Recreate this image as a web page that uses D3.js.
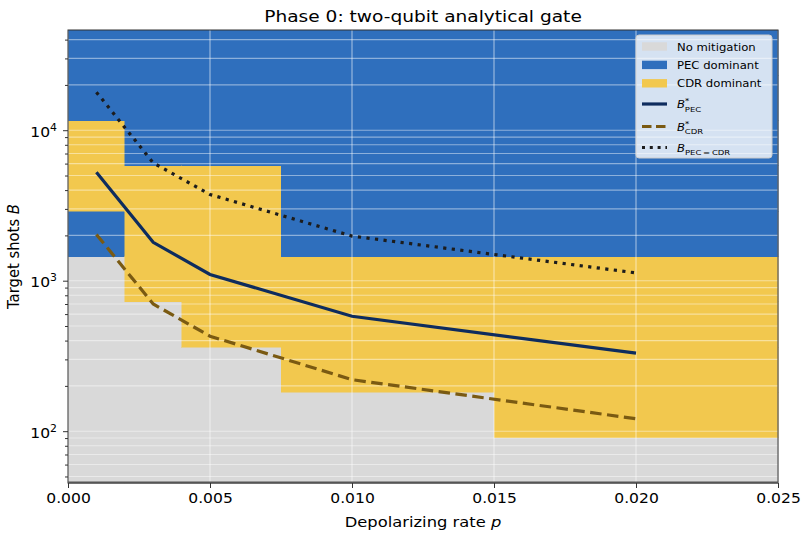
<!DOCTYPE html>
<html lang="en">
<head>
<meta charset="UTF-8">
<title>Phase 0: two-qubit analytical gate</title>
<script src="https://cdn.jsdelivr.net/npm/d3@7"></script>
<style>
  body { margin: 0; background: #fff; }
  svg { display: block; font-family: "DejaVu Sans", sans-serif; }
</style>
</head>
<body>
<svg id="chart" width="805" height="536"></svg>
<script>
// depolarizing rates (columns) and target shots (rows, powers of two)
const pValues = [0.001, 0.003, 0.005, 0.010, 0.020];
const shotValues = [64, 128, 256, 512, 1024, 2048, 4096, 8192, 16384, 32768];

const regimeNames = ["No mitigation", "PEC dominant", "CDR dominant"];
const regimeColors = ["#d9d9d9", "#2f6fbd", "#f2c84e"];

// regime index per shot row (bottom -> top), one list per p column
const regimeP001 = [0, 0, 0, 0, 0, 1, 2, 2, 1, 1];
const regimeP003 = [0, 0, 0, 0, 2, 2, 2, 1, 1, 1];
const regimeP005 = [0, 0, 0, 2, 2, 2, 2, 1, 1, 1];
const regimeP010 = [0, 0, 2, 2, 2, 1, 1, 1, 1, 1];
const regimeP020 = [0, 2, 2, 2, 2, 1, 1, 1, 1, 1];
const regimeGrid = [regimeP001, regimeP003, regimeP005, regimeP010, regimeP020];

// threshold curves
const bPec = [5260, 1800, 1100, 580, 330];
const bCdr = [2030, 700, 428, 220, 121];
const bCross = [17900, 6070, 3740, 1980, 1127];

const xTicks = [0, 0.005, 0.010, 0.015, 0.020, 0.025];
const yMajorTicks = [100, 1000, 10000];

const SX = 1.12; // text in the picture is a bit wider than tall

const svg = d3.select("#chart");
const margin = { left: 68, right: 27, top: 30, bottom: 53 };
const W = 805, H = 536;
const plotW = W - margin.left - margin.right;
const plotH = H - margin.top - margin.bottom;

// cell edges like pcolormesh(shading="nearest")
function edges(vals) {
  const e = [vals[0] - (vals[1] - vals[0]) / 2];
  for (let i = 0; i < vals.length - 1; i++) e.push((vals[i] + vals[i + 1]) / 2);
  const n = vals.length - 1;
  e.push(vals[n] + (vals[n] - vals[n - 1]) / 2);
  return e;
}
const pEdges = edges(pValues);
const bEdges = edges(shotValues.map(Math.log2)).map(v => Math.pow(2, v));

const x = d3.scaleLinear().domain([pEdges[0], pEdges[pEdges.length - 1]]).range([0, plotW]);
const y = d3.scaleLog().domain([bEdges[0], bEdges[bEdges.length - 1]]).range([plotH, 0]);

const g = svg.append("g").attr("transform", `translate(${margin.left},${margin.top})`);

// heat cells
const cells = [];
regimeGrid.forEach((col, i) => {
  col.forEach((r, j) => {
    cells.push({ x0: pEdges[i], x1: pEdges[i + 1], y0: bEdges[j], y1: bEdges[j + 1], r: r });
  });
});
g.append("g").selectAll("rect").data(cells).join("rect")
  .attr("x", d => x(d.x0))
  .attr("y", d => y(d.y1))
  .attr("width", d => x(d.x1) - x(d.x0))
  .attr("height", d => y(d.y0) - y(d.y1))
  .attr("fill", d => regimeColors[d.r])
  .attr("stroke", d => regimeColors[d.r])
  .attr("stroke-width", 0.5)
  .attr("shape-rendering", "crispEdges");

// grid
const [yMin, yMax] = y.domain();
const yAllTicks = [];
for (let dec = 1; dec <= 5; dec++) {
  for (let m = 1; m <= 9; m++) {
    const v = m * Math.pow(10, dec);
    if (v >= yMin && v <= yMax) yAllTicks.push(v);
  }
}
const yMinorTicks = yAllTicks.filter(v => !yMajorTicks.includes(v));

g.append("g").selectAll("line").data(yAllTicks).join("line")
  .attr("x1", 0).attr("x2", plotW)
  .attr("y1", d => y(d)).attr("y2", d => y(d))
  .attr("stroke", "#fff").attr("stroke-opacity", 0.45).attr("stroke-width", 1.1);

g.append("g").selectAll("line").data(xTicks).join("line")
  .attr("x1", d => x(d)).attr("x2", d => x(d))
  .attr("y1", 0).attr("y2", plotH)
  .attr("stroke", "#fff").attr("stroke-opacity", 0.55).attr("stroke-width", 1.1);

// curves
const line = d3.line().x((d, i) => x(pValues[i])).y(d => y(d));
g.append("path").datum(bCross).attr("d", line)
  .attr("fill", "none").attr("stroke", "#1c1c1c").attr("stroke-width", 3.2)
  .attr("stroke-dasharray", "3.2 5.4");
g.append("path").datum(bPec).attr("d", line)
  .attr("fill", "none").attr("stroke", "#0e2c5e").attr("stroke-width", 3.2);
g.append("path").datum(bCdr).attr("d", line)
  .attr("fill", "none").attr("stroke", "#7a5a12").attr("stroke-width", 3.2)
  .attr("stroke-dasharray", "11.5 5.5");

// frame
g.append("rect").attr("width", plotW).attr("height", plotH)
  .attr("fill", "none").attr("stroke", "#333").attr("stroke-width", 1);
g.append("line").attr("x1", 0).attr("x2", plotW).attr("y1", plotH - 0.5).attr("y2", plotH - 0.5)
  .attr("stroke", "#555").attr("stroke-width", 2);

// x axis
const xAxis = g.append("g").attr("transform", `translate(0,${plotH})`)
  .call(d3.axisBottom(x).tickValues(xTicks).tickFormat(d3.format(".3f")).tickSize(5).tickPadding(5));
xAxis.select(".domain").remove();
xAxis.selectAll("text").attr("font-size", 13.9).attr("fill", "#000")
  .attr("font-family", "DejaVu Sans").attr("transform", `scale(${SX},1)`);
xAxis.selectAll("line").attr("stroke", "#333");

// y axis (major + minor ticks)
const yAxis = g.append("g")
  .call(d3.axisLeft(y).tickValues(yMajorTicks).tickFormat("").tickSize(5));
yAxis.select(".domain").remove();
yAxis.selectAll("line").attr("stroke", "#333");
const yMinor = g.append("g")
  .call(d3.axisLeft(y).tickValues(yMinorTicks).tickFormat("").tickSize(3));
yMinor.select(".domain").remove();
yMinor.selectAll("line").attr("stroke", "#333");

const yLab = g.append("g").selectAll("text").data(yMajorTicks).join("text")
  .attr("transform", d => `translate(-11,${y(d) + 6.5}) scale(${SX},1)`)
  .attr("text-anchor", "end").attr("font-size", 13.9).attr("fill", "#000");
yLab.append("tspan").text("10");
yLab.append("tspan").attr("dy", -6).attr("font-size", 9.7).text(d => Math.round(Math.log10(d)));

// title and axis labels
svg.append("text").attr("transform", `translate(${margin.left + plotW / 2},21.5) scale(${SX},1)`)
  .attr("text-anchor", "middle").attr("font-size", 16.6).text("Phase 0: two-qubit analytical gate");

const xl = svg.append("text").attr("transform", `translate(${margin.left + plotW / 2},527) scale(${SX},1)`)
  .attr("text-anchor", "middle").attr("font-size", 14.6);
xl.append("tspan").text("Depolarizing rate ");
xl.append("tspan").attr("font-style", "italic").text("p");

const yl = svg.append("text")
  .attr("transform", `translate(19,${margin.top + plotH / 2}) scale(${SX},1) rotate(-90)`)
  .attr("text-anchor", "middle").attr("font-size", 14.8);
yl.append("tspan").text("Target shots ");
yl.append("tspan").attr("font-style", "italic").text("B");

// legend
const leg = svg.append("g").attr("transform", "translate(636,35)");
leg.append("rect").attr("width", 136).attr("height", 123).attr("rx", 3)
  .attr("fill", "#fff").attr("fill-opacity", 0.8).attr("stroke", "#ccc").attr("stroke-width", 1);

regimeNames.forEach((name, i) => {
  const cy = 11.5 + i * 18.4;
  leg.append("rect").attr("x", 6).attr("y", cy - 4.2).attr("width", 25).attr("height", 8.4)
    .attr("fill", regimeColors[i]);
  leg.append("text").attr("transform", `translate(41,${cy + 4}) scale(${SX},1)`)
    .attr("font-size", 10.4).text(name);
});

const lineItems = [
  { sup: "*", sub: "PEC", color: "#0e2c5e", dash: null, cy: 69 },
  { sup: "*", sub: "CDR", color: "#7a5a12", dash: "9.5 4.5", cy: 91.5 },
  { sup: null, sub: "PEC\u2009=\u2009CDR", color: "#1c1c1c", dash: "3 4.8", cy: 112.5 }
];
lineItems.forEach(it => {
  const l = leg.append("line").attr("x1", 6).attr("x2", 31).attr("y1", it.cy).attr("y2", it.cy)
    .attr("stroke", it.color).attr("stroke-width", 3.2);
  if (it.dash) l.attr("stroke-dasharray", it.dash);
  const t = leg.append("text").attr("transform", `translate(41,${it.cy + 4.2}) scale(${SX},1)`)
    .attr("font-size", 10.4);
  t.append("tspan").attr("font-style", "italic").text("B");
  if (it.sup) {
    t.append("tspan").attr("dy", -5).attr("font-size", 7.6).text(it.sup);
    t.append("tspan").attr("dx", -4).attr("dy", 8.5).attr("font-size", 7.6).text(it.sub);
  } else {
    t.append("tspan").attr("dy", 3.5).attr("font-size", 7.6).text(it.sub);
  }
});
</script>
</body>
</html>
